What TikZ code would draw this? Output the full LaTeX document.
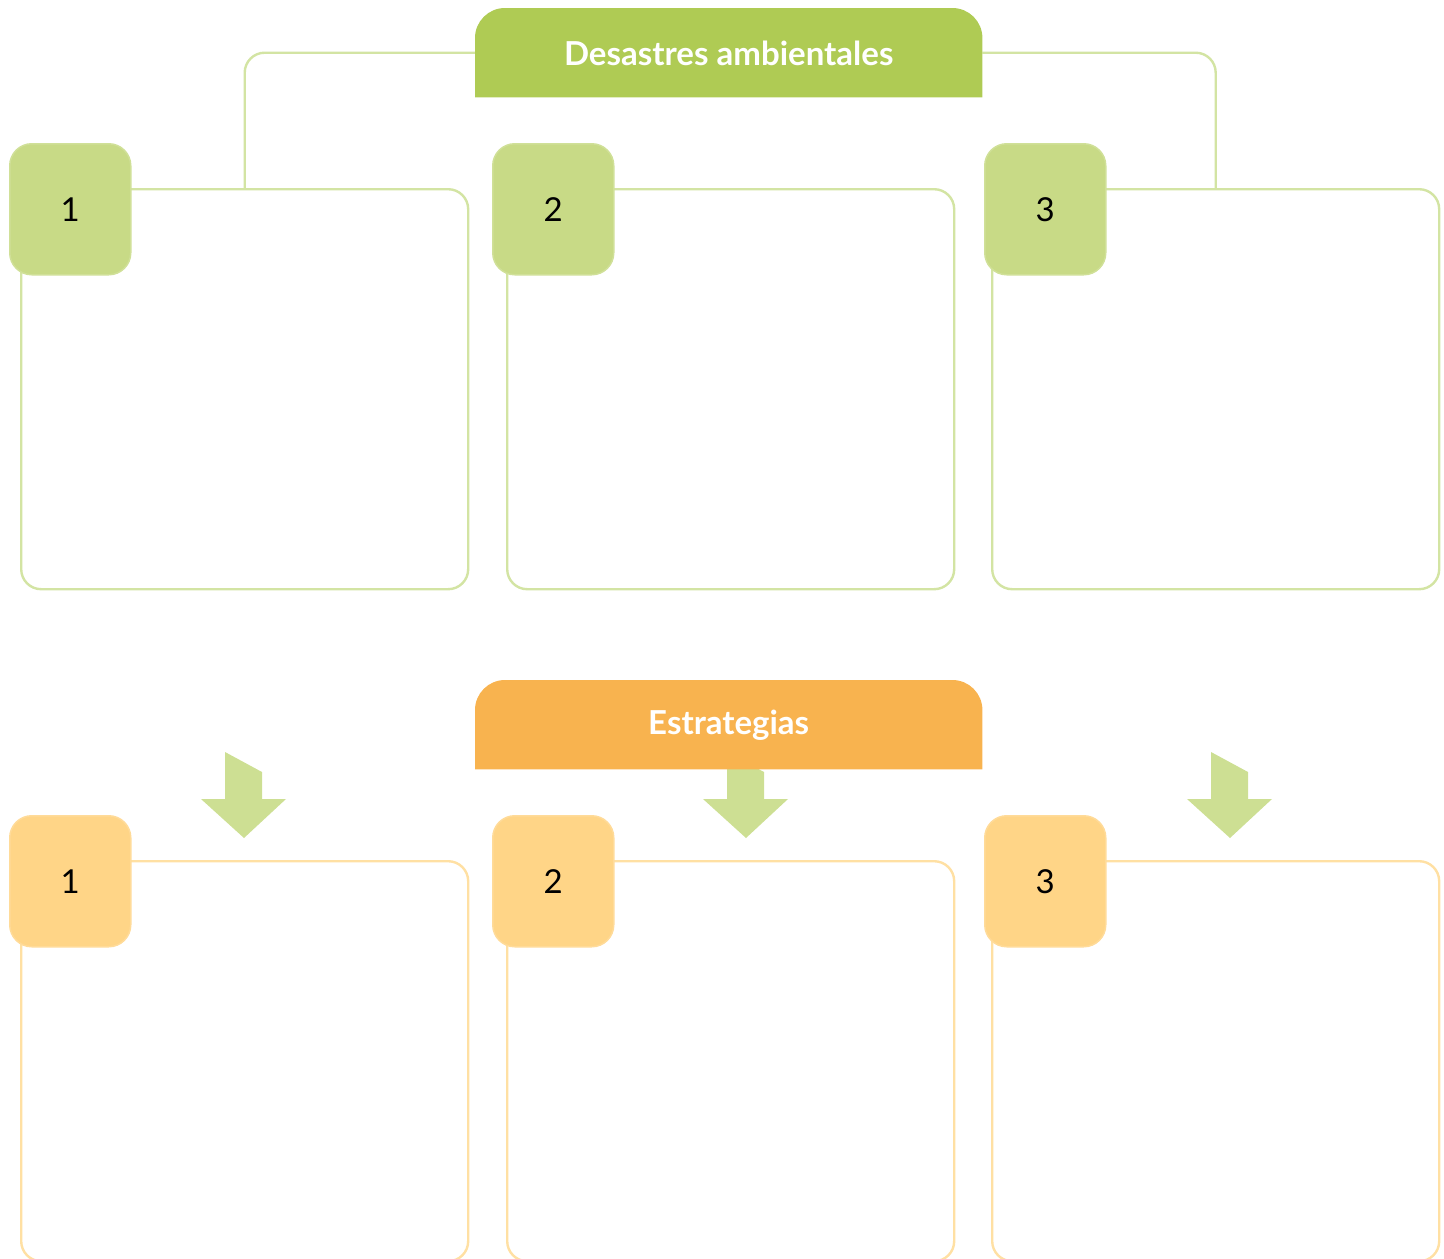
\documentclass[tikz,border=0pt]{standalone}
\usepackage{fontspec}
\setmainfont{Lato}
\usetikzlibrary{calc}
\definecolor{hgreen}{HTML}{AFCB54}
\definecolor{bgreen}{HTML}{C8DA86}
\definecolor{lgreen}{HTML}{D3E4A3}
\definecolor{agreen}{HTML}{CDDF93}
\definecolor{horange}{HTML}{F8B34F}
\definecolor{borange}{HTML}{FFD587}
\definecolor{lorange}{HTML}{FFE0A3}
\tikzset{
  frame/.style={draw=#1, line width=2.4pt, rounded corners=20pt, fill=white,
    minimum width=447pt, minimum height=400pt, anchor=north west, inner sep=0pt},
  badge/.style={fill=#1, draw=#1!85!white, line width=1.5pt, rounded corners=22pt,
    minimum width=121pt, minimum height=131pt, anchor=north west, inner sep=0pt,
    text=black, font=\fontsize{33}{33}\selectfont},
  header/.style={minimum width=507pt, minimum height=89pt, anchor=north west, inner sep=0pt},
  htext/.style={text=white, font=\bfseries\fontsize{33}{33}\selectfont},
  conn/.style={draw=lgreen, line width=2.4pt, rounded corners=20pt},
  pics/downarrow/.style={code={
    \fill[agreen] (-19,-86) -- (18,-66) -- (18,-39) -- (42,-39) -- (0,0)
      -- (-43,-39) -- (-19,-39) -- cycle;}}
}
\newcommand{\hdrshape}[2]{%
  \fill[#2] (#1.south west) -- ($(#1.north west)+(0,30)$)
    arc[start angle=180, end angle=270, radius=30]
    -- ($(#1.north east)+(-30,0)$)
    arc[start angle=270, end angle=360, radius=30]
    -- (#1.south east) -- cycle;}
\begin{document}
\begin{tikzpicture}[x=1pt,y=-1pt]
\useasboundingbox (0,0) rectangle (1444,1259);
% ---------- top section ----------
\node[header] (h1) at (475,8) {};
\node[frame=lgreen] (b1) at (20,188) {};
\node[frame=lgreen] (b2) at (506,188) {};
\node[frame=lgreen] (b3) at (991,188) {};
\draw[conn] (h1.west) -| (b1.north);
\draw[conn] (h1.east) -| (b3.north);
\hdrshape{h1}{hgreen}
\node[htext] at ($(h1.center)+(0,1)$) {Desastres ambientales};
\node[badge=bgreen] (n1) at (9,143) {1};
\node[badge=bgreen] (n2) at (492,143) {2};
\node[badge=bgreen] (n3) at (984,143) {3};
% ---------- bottom section ----------
\pic at (244,838) {downarrow};
\pic at (746,838) {downarrow};
\pic at (1230,838) {downarrow};
\node[header] (h2) at (475,680) {};
\hdrshape{h2}{horange}
\node[htext] at ($(h2.center)+(0,1)$) {Estrategias};
\node[frame=lorange] (c1) at (20,860) {};
\node[frame=lorange] (c2) at (506,860) {};
\node[frame=lorange] (c3) at (991,860) {};
\node[badge=borange] (m1) at (9,815) {1};
\node[badge=borange] (m2) at (492,815) {2};
\node[badge=borange] (m3) at (984,815) {3};
\end{tikzpicture}
\end{document}
